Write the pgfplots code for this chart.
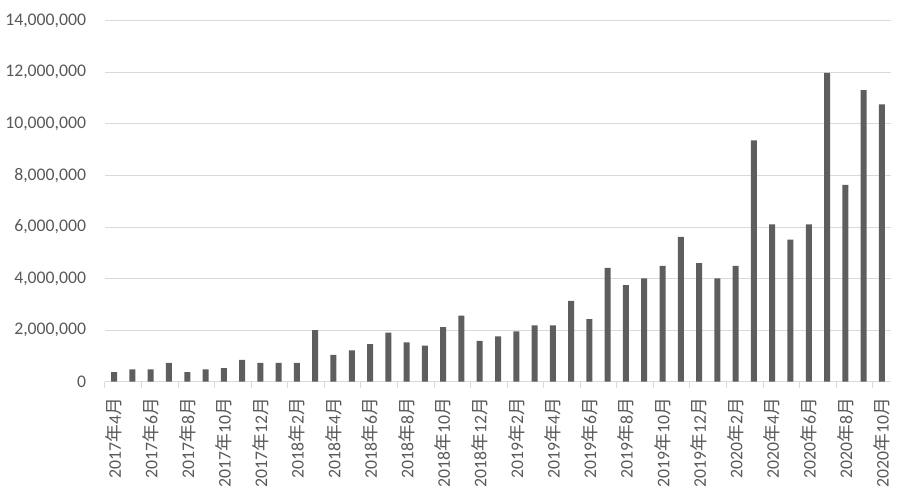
\documentclass[border=0pt]{standalone}
\usepackage{pgfplots}
\pgfplotsset{compat=1.18}
\usepackage{fontspec}
\setmainfont{Carlito}
\newfontfamily\cjk{Noto Sans CJK SC}
\definecolor{bargray}{HTML}{5E5E5E}
\definecolor{gridgray}{HTML}{D9D9D9}
\definecolor{textgray}{HTML}{595959}
\newcommand{\ym}[2]{#1{\cjk 年}#2{\cjk 月}}

\begin{document}
\begin{tikzpicture}
\useasboundingbox (-78.75pt,-86.5pt) rectangle (597.75pt,286.3pt);
\begin{axis}[
  at={(0,0)}, anchor=south west,
  scale only axis,
  width=589.5pt, height=270.75pt,
  ybar, bar width=4.5pt,
  xmin=-0.5, xmax=42.5,
  ymin=0, ymax=14000000,
  ytick={0,2000000,...,14000000},
  scaled y ticks=false,
  /pgf/number format/fixed,
  /pgf/number format/precision=0,
  /pgf/number format/1000 sep={,},
  /pgf/number format/assume math mode=true,
  axis x line*=bottom, axis y line*=left,
  y axis line style={draw=none},
  x axis line style={gridgray, line width=0.75pt},
  ymajorgrids, grid style={gridgray, line width=0.75pt},
  major tick length=0pt,
  tick align=outside,
  minor tick length=4.5pt,
  xtick={0,2,...,42},
  minor xtick={-0.5,1.5,...,41.5},
  every minor tick/.append style={gridgray, line width=0.75pt},
  tick label style={font=\fontsize{13.3pt}{15pt}\selectfont, text=textgray},
  yticklabel style={anchor=east, inner sep=0pt, xshift=-14pt},
  xticklabel style={yshift=-12pt, rotate=90, anchor=east, inner sep=0pt},
  xticklabels={\ym{2017}{4},\ym{2017}{6},\ym{2017}{8},\ym{2017}{10},\ym{2017}{12},
    \ym{2018}{2},\ym{2018}{4},\ym{2018}{6},\ym{2018}{8},\ym{2018}{10},\ym{2018}{12},
    \ym{2019}{2},\ym{2019}{4},\ym{2019}{6},\ym{2019}{8},\ym{2019}{10},\ym{2019}{12},
    \ym{2020}{2},\ym{2020}{4},\ym{2020}{6},\ym{2020}{8},\ym{2020}{10}},
]
\addplot[fill=bargray, draw=none, bar shift=0pt] coordinates {
(0,370000) (1,480000) (2,480000) (3,730000) (4,370000) (5,480000)
(6,530000) (7,850000) (8,730000) (9,730000) (10,730000) (11,2000000)
(12,1040000) (13,1220000) (14,1460000) (15,1900000) (16,1530000) (17,1400000)
(18,2120000) (19,2560000) (20,1580000) (21,1760000) (22,1950000) (23,2190000)
(24,2190000) (25,3140000) (26,2430000) (27,4420000) (28,3750000) (29,4010000)
(30,4490000) (31,5620000) (32,4600000) (33,4010000) (34,4490000) (35,9360000)
(36,6100000) (37,5510000) (38,6100000) (39,11980000) (40,7630000) (41,11310000)
(42,10760000)};
\end{axis}
\end{tikzpicture}
\end{document}
